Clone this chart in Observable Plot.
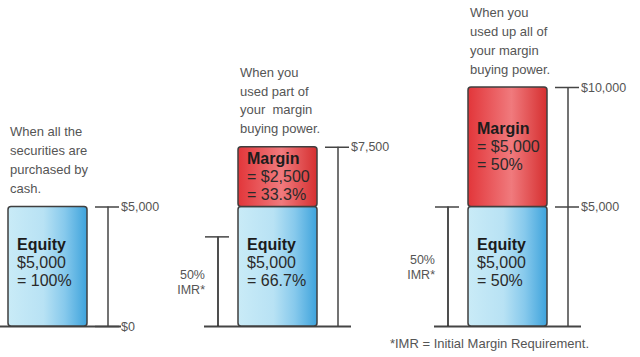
<!DOCTYPE html>
<html><head><meta charset="utf-8">
<script src="https://cdn.jsdelivr.net/npm/d3@7"></script>
<script src="https://cdn.jsdelivr.net/npm/@observablehq/plot@0.6"></script>
<style>
body{margin:0;background:#fff;}
#chart svg{display:block;}
</style></head><body><div id="chart"></div>
<script>
// ---- data ----
const scenarios = ["Cash", "Part margin", "Full margin"];
const titles = [
  "When all the\nsecurities are\npurchased by\ncash.",
  "When you\nused part of\nyour  margin\nbuying power.",
  "When you\nused up all of\nyour margin\nbuying power."
];
const equity = [5000, 5000, 5000];
const margin = [0, 2500, 5000];
const equityPct = ["100%", "66.7%", "50%"];
const marginPct = [null, "33.3%", "50%"];
const imrLevel = [null, 3750, 5000];
const imrLabel = "50%\nIMR*";
const tickValues = [[5000, 0], [7500], [10000, 5000]];
const tickLabels = [["$5,000", "$0"], ["$7,500"], ["$10,000", "$5,000"]];
const footnote = "*IMR = Initial Margin Requirement.";

// ---- tables built from the arrays ----
const fmt = d3.format("$,");
const rows = scenarios.map((s, i) => ({
  scenario: s, title: titles[i], equity: equity[i], margin: margin[i],
  total: equity[i] + margin[i], eqPct: equityPct[i], mgPct: marginPct[i], imr: imrLevel[i]
}));
const marginRows = rows.filter(d => d.margin > 0);
const imrRows = rows.filter(d => d.imr != null);
const ticks = rows.flatMap((d, i) => tickValues[i].map((v, j) => ({scenario: d.scenario, value: v, label: tickLabels[i][j]})));

const font = "Liberation Sans, Arial, sans-serif";
const lineColor = "#454545";
const grayText = "#555";

const plot = Plot.plot({
  width: 640, height: 357,
  marginLeft: 8, marginRight: 93, marginTop: 87, marginBottom: 31,
  style: {fontFamily: font, background: "transparent"},
  x: {domain: scenarios, paddingInner: 0.657, paddingOuter: 0, axis: null},
  y: {domain: [0, 10000], axis: null},
  marks: [
    // baselines
    Plot.tickY(rows, {x: "scenario", y: () => 0, insetLeft: -34, insetRight: -34, stroke: lineColor, strokeWidth: 1.8}),
    // equity and margin segments
    Plot.barY(rows, {x: "scenario", y1: () => 0, y2: "equity", fill: "url(#eqGrad)", stroke: "#3f3f3f", strokeWidth: 1.5, rx: 3}),
    Plot.barY(marginRows, {x: "scenario", y1: "equity", y2: "total", fill: "url(#mgGrad)", stroke: "#3f3f3f", strokeWidth: 1.5, rx: 3}),
    // right brackets
    Plot.ruleX(rows, {x: "scenario", y1: () => 0, y2: "total", dx: 60, stroke: lineColor, strokeWidth: 1.5}),
    Plot.tickY(ticks, {x: "scenario", y: "value", dx: 60, insetLeft: 27, insetRight: 28, stroke: lineColor, strokeWidth: 1.5}),
    Plot.text(ticks, {x: "scenario", y: "value", text: "label", dx: 73, textAnchor: "start", fontSize: 12.5, fill: grayText}),
    // left IMR brackets
    Plot.ruleX(imrRows, {x: "scenario", y1: () => 0, y2: "imr", dx: -60, stroke: "#222", strokeWidth: 1.6}),
    Plot.tickY(imrRows, {x: "scenario", y: "imr", dx: -60, insetLeft: 27, insetRight: 28, stroke: lineColor, strokeWidth: 1.5}),
    Plot.text(imrRows, {x: "scenario", y: d => d.imr / 2, text: () => imrLabel, dx: -73, textAnchor: "end", fontSize: 12.5, lineHeight: 1.2, fill: grayText}),
    // titles
    Plot.text(rows, {x: "scenario", y: "total", text: "title", dx: -38, dy: -14, lineAnchor: "bottom", textAnchor: "start", fontSize: 13, lineHeight: 1.45, fill: grayText}),
    // equity labels
    Plot.text(rows, {x: "scenario", y: d => d.equity / 2, text: () => "Equity", dx: -31, dy: -22, textAnchor: "start", fontSize: 16, fontWeight: "bold", fill: "#1c1c1c"}),
    Plot.text(rows, {x: "scenario", y: d => d.equity / 2, text: d => fmt(d.equity), dx: -31, dy: -4, textAnchor: "start", fontSize: 16, fill: "#2a2a2a"}),
    Plot.text(rows, {x: "scenario", y: d => d.equity / 2, text: d => "= " + d.eqPct, dx: -31, dy: 14, textAnchor: "start", fontSize: 16, fill: "#2a2a2a"}),
    // margin labels
    Plot.text(marginRows, {x: "scenario", y: d => d.equity + d.margin / 2, text: () => "Margin", dx: -31, dy: -18, textAnchor: "start", fontSize: 16, fontWeight: "bold", fill: "#1c1c1c"}),
    Plot.text(marginRows, {x: "scenario", y: d => d.equity + d.margin / 2, text: d => "= " + fmt(d.margin), dx: -31, dy: 0, textAnchor: "start", fontSize: 16, fill: "#2a2a2a"}),
    Plot.text(marginRows, {x: "scenario", y: d => d.equity + d.margin / 2, text: d => "= " + d.mgPct, dx: -31, dy: 18, textAnchor: "start", fontSize: 16, fill: "#2a2a2a"}),
    // footnote
    Plot.text([footnote], {x: () => scenarios[2], y: () => 0, text: d => d, dx: 81, dy: 17, textAnchor: "end", fontSize: 13, fill: grayText})
  ]
});

// gradient definitions
const ns = "http://www.w3.org/2000/svg";
const defs = document.createElementNS(ns, "defs");
function grad(id, stops) {
  const g = document.createElementNS(ns, "linearGradient");
  g.setAttribute("id", id);
  g.setAttribute("x1", "0"); g.setAttribute("x2", "1"); g.setAttribute("y1", "0"); g.setAttribute("y2", "0");
  for (const [o, c] of stops) {
    const s = document.createElementNS(ns, "stop");
    s.setAttribute("offset", o); s.setAttribute("stop-color", c);
    g.appendChild(s);
  }
  defs.appendChild(g);
}
grad("eqGrad", [["0%", "#c9ebf7"], ["45%", "#b8e2f4"], ["72%", "#86c9ec"], ["100%", "#3ea3dc"]]);
grad("mgGrad", [["0%", "#e2363a"], ["55%", "#f07a7d"], ["100%", "#d62f30"]]);
plot.insertBefore(defs, plot.firstChild);
document.getElementById("chart").appendChild(plot);
</script></body></html>
